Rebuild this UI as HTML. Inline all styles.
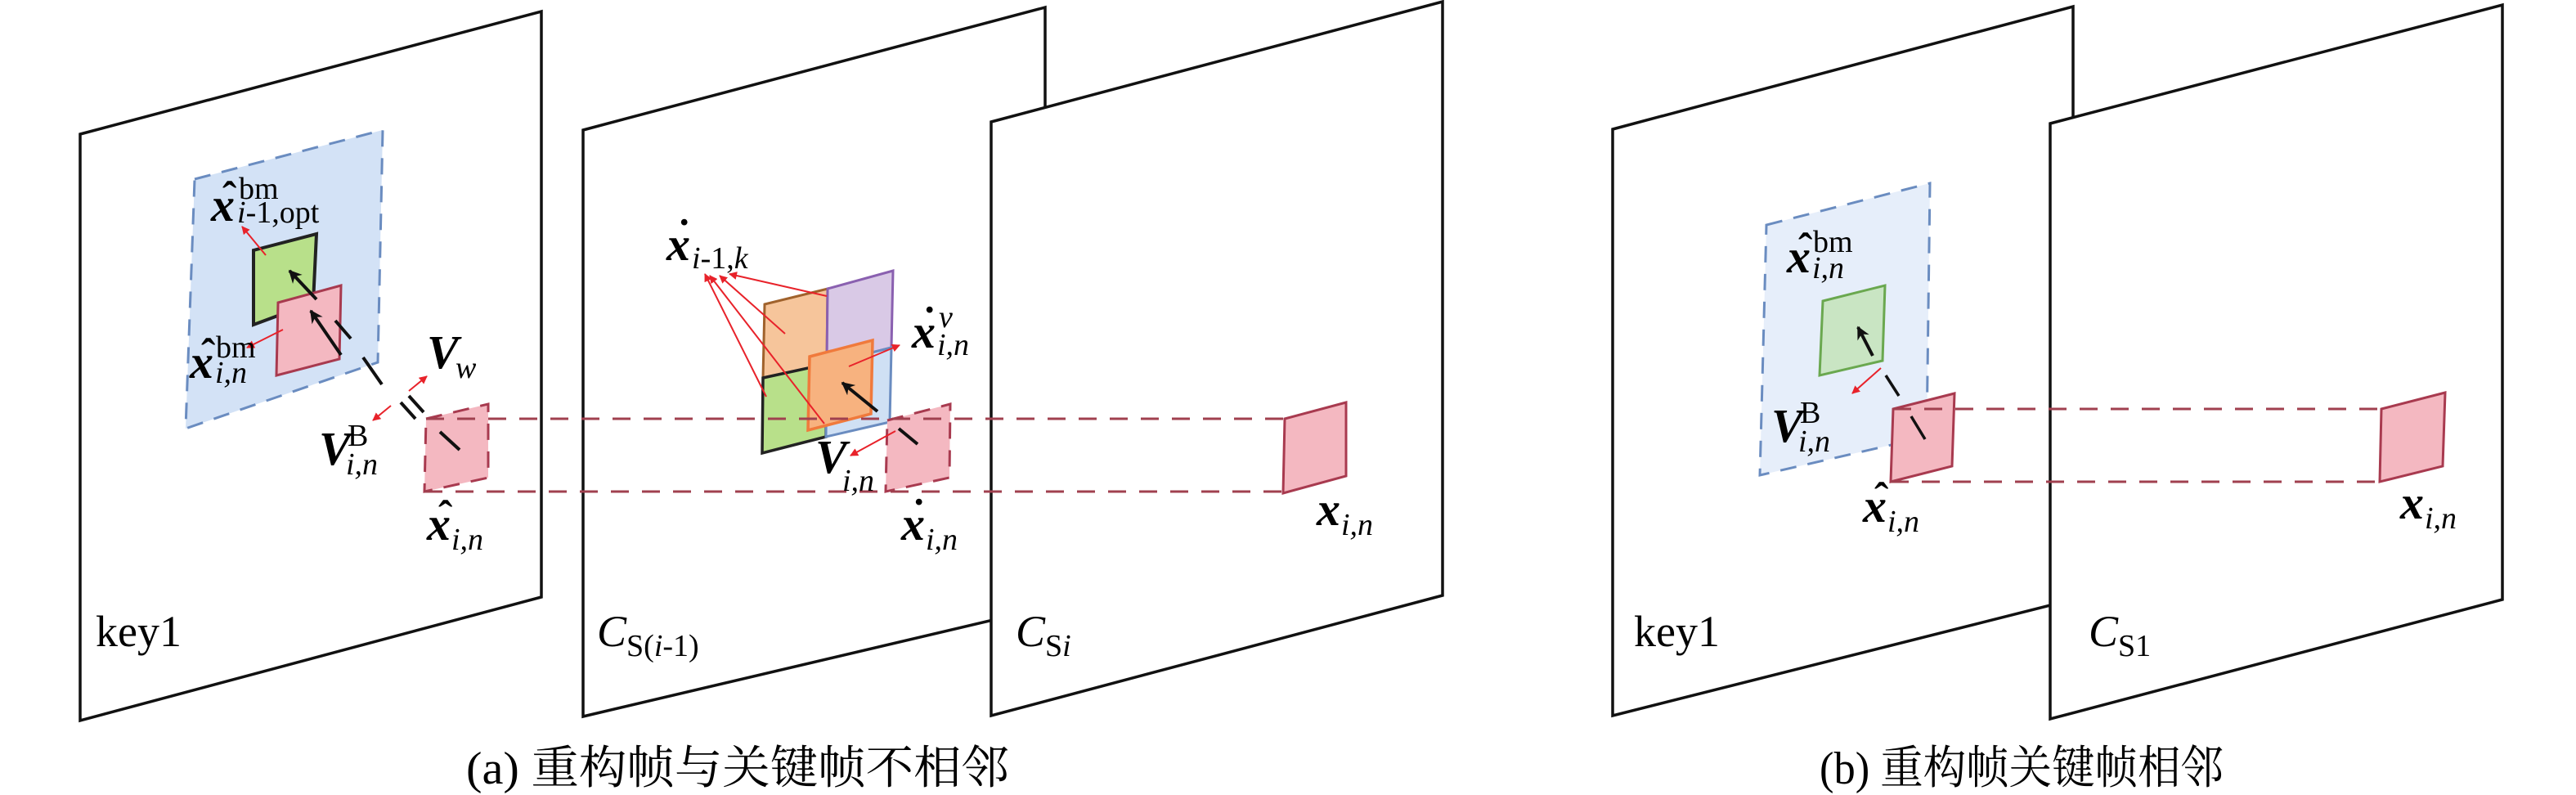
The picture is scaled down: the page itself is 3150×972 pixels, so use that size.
<!DOCTYPE html>
<html><head><meta charset="utf-8"><style>
html,body{margin:0;padding:0;background:#fff;}
svg{display:block;}
text{font-family:"Liberation Serif","Noto Serif CJK SC",serif;}
.m{font-style:italic;font-weight:bold;font-size:58px;}
.h{font-weight:bold;font-size:52px;}
.s{font-style:italic;font-size:38px;}
.r{font-size:38px;}
.lab{font-size:54px;}
.cap{font-size:56px;}
</style></head><body>
<svg width="3150" height="972" viewBox="0 0 3150 972" xmlns="http://www.w3.org/2000/svg">
<defs>
<marker id="ra" viewBox="0 0 10 10" refX="9" refY="5" markerWidth="5" markerHeight="5" orient="auto" markerUnits="strokeWidth"><path d="M0,0L10,5L0,10z" fill="#e8222a"/></marker>
<marker id="ba" viewBox="0 0 10 10" refX="9" refY="5" markerWidth="4" markerHeight="4" orient="auto" markerUnits="strokeWidth"><path d="M0,0L10,5L0,10L3,5z" fill="#111"/></marker>
</defs>
<g fill="#fff" stroke="#111" stroke-width="3.5">
<polygon points="98,164 662,14 662,730 98,881"/>
<polygon points="713,159 1278,9 1278,743 713,876"/>
<polygon points="1212,149 1764,2 1764,728 1212,875"/>
<polygon points="1972,158 2535,8 2535,733 1972,875"/>
<polygon points="2507,151 3060,6 3060,733 2507,879"/>
</g>
<!-- part a: key1 -->
<polygon points="238,219 468,159 462,443 227,524" fill="#d3e2f6" stroke="#6a8cc0" stroke-width="3" stroke-dasharray="20 14"/>
<polygon points="310,306 387,286 383,370 310,397" fill="#b8e08a" stroke="#222" stroke-width="4"/>
<polygon points="340,370 417,349 415,439 338,459" fill="#f4b8c1" stroke="#a83a4f" stroke-width="3"/>
<line x1="417" y1="434" x2="380" y2="380" stroke="#111" stroke-width="4" marker-end="url(#ba)"/>
<line x1="387" y1="366" x2="354" y2="331" stroke="#111" stroke-width="4" marker-end="url(#ba)"/>
<g stroke="#111" stroke-width="4">
<line x1="410" y1="392" x2="429" y2="414"/>
<line x1="444" y1="437" x2="467" y2="470"/>
<line x1="490" y1="492" x2="508" y2="512"/>
<line x1="500" y1="484" x2="518" y2="504"/>
</g>
<g stroke="#e8222a" stroke-width="2" fill="none">
<line x1="325" y1="312" x2="296" y2="277" marker-end="url(#ra)"/>
<line x1="346" y1="403" x2="302" y2="425" marker-end="url(#ra)"/>
<line x1="478" y1="496" x2="456" y2="514" marker-end="url(#ra)"/>
<line x1="500" y1="478" x2="522" y2="460" marker-end="url(#ra)"/>
</g>
<polygon points="521,512 597,494 597,584 519,601" fill="#f4b8c1" stroke="#a83a4f" stroke-width="3" stroke-dasharray="20 14"/>
<line x1="538" y1="528" x2="562" y2="550" stroke="#111" stroke-width="4"/>
<!-- part a: C_S(i-1) -->
<polygon points="935,372 1012,353 1011,445 933,462" fill="#f6c59b" stroke="#a0622c" stroke-width="3"/>
<polygon points="1012,353 1092,331 1090,425 1011,445" fill="#d9c9e6" stroke="#8a60b0" stroke-width="3"/>
<polygon points="933,462 1011,445 1010,534 932,554" fill="#b8e08a" stroke="#222" stroke-width="3.5"/>
<polygon points="1011,445 1090,425 1088,516 1010,534" fill="#cfe0f4" stroke="#6a8cc0" stroke-width="3"/>
<polygon points="990,436 1067,416 1065,506 988,526" fill="#f7b27f" stroke="#f07a3c" stroke-width="3.5"/>
<line x1="1073" y1="503" x2="1030" y2="468" stroke="#111" stroke-width="4" marker-end="url(#ba)"/>
<polygon points="1085,514 1162,494 1161,584 1083,601" fill="#f4b8c1" stroke="#a83a4f" stroke-width="3" stroke-dasharray="20 14"/>
<line x1="1099" y1="524" x2="1122" y2="543" stroke="#111" stroke-width="4"/>
<g stroke="#e8222a" stroke-width="2" fill="none">
<line x1="1011" y1="362" x2="892" y2="335" marker-end="url(#ra)"/>
<line x1="960" y1="408" x2="880" y2="337" marker-end="url(#ra)"/>
<line x1="937" y1="485" x2="862" y2="335" marker-end="url(#ra)"/>
<line x1="1008" y1="518" x2="868" y2="337" marker-end="url(#ra)"/>
<line x1="1038" y1="448" x2="1100" y2="422" marker-end="url(#ra)"/>
<line x1="1095" y1="527" x2="1040" y2="557" marker-end="url(#ra)"/>
</g>
<g stroke="#a0404f" stroke-width="3" stroke-dasharray="22 16" fill="none">
<line x1="521" y1="512" x2="1571" y2="512"/>
<line x1="519" y1="601" x2="1569" y2="601"/>
</g>
<polygon points="1571,512 1646,492 1646,582 1569,603" fill="#f4b8c1" stroke="#a83a4f" stroke-width="3"/>
<!-- part b -->
<polygon points="2160,275 2360,224 2356,534 2152,581" fill="#e6eefa" stroke="#6a8cc0" stroke-width="3" stroke-dasharray="20 14"/>
<polygon points="2229,368 2305,349 2302,441 2225,459" fill="#c9e5c3" stroke="#6aa84f" stroke-width="3"/>
<line x1="2290" y1="435" x2="2272" y2="400" stroke="#111" stroke-width="4" marker-end="url(#ba)"/>
<line x1="2300" y1="450" x2="2265" y2="481" stroke="#e8222a" stroke-width="2" marker-end="url(#ra)"/>
<line x1="2306" y1="459" x2="2322" y2="484" stroke="#111" stroke-width="3.5"/>
<polygon points="2315,500 2390,481 2387,570 2312,589" fill="#f4b8c1" stroke="#a83a4f" stroke-width="3"/>
<line x1="2337" y1="509" x2="2354" y2="537" stroke="#111" stroke-width="3.5"/>
<g stroke="#a0404f" stroke-width="3" stroke-dasharray="22 16" fill="none">
<line x1="2315" y1="500" x2="2912" y2="500"/>
<line x1="2312" y1="589" x2="2910" y2="589"/>
</g>
<polygon points="2912,500 2990,480 2987,570 2910,589" fill="#f4b8c1" stroke="#a83a4f" stroke-width="3"/>
<!-- labels part a -->
<text x="258" y="270" class="m">x</text><text x="272" y="258" class="h">ˆ</text>
<text x="292" y="243" class="r">bm</text><text x="290" y="272"><tspan class="s">i</tspan><tspan class="r">-1,opt</tspan></text>

<text x="232" y="462" class="m">x</text><text x="246" y="450" class="h">ˆ</text>
<text x="264" y="437" class="r">bm</text><text x="263" y="468" class="s">i,n</text>

<text x="522" y="450" class="m">V</text><text x="557" y="462" class="s">w</text>

<text x="390" y="568" class="m">V</text><text x="425" y="545" class="r">B</text><text x="423" y="580" class="s">i,n</text>

<text x="522" y="660" class="m">x</text><text x="536" y="648" class="h">ˆ</text><text x="552" y="672" class="s">i,n</text>

<text x="815" y="318" class="m">x</text><text x="828" y="304" class="h">˙</text>
<text x="846" y="328"><tspan class="s">i</tspan><tspan class="r">-1,</tspan><tspan class="s">k</tspan></text>

<text x="1115" y="425" class="m">x</text><text x="1128" y="411" class="h">˙</text>
<text x="1148" y="400" class="s">v</text><text x="1146" y="434" class="s">i,n</text>

<text x="997" y="578" class="m">V</text><text x="1030" y="600" class="s">i,n</text>

<text x="1102" y="660" class="m">x</text><text x="1115" y="646" class="h">˙</text><text x="1132" y="672" class="s">i,n</text>

<text x="1610" y="642" class="m">x</text><text x="1640" y="654" class="s">i,n</text>

<text x="117" y="790" class="lab">key1</text>
<text x="730" y="790" class="lab" font-style="italic">C<tspan font-style="normal" font-size="38" dy="12">S(</tspan><tspan font-size="38">i</tspan><tspan font-style="normal" font-size="38">-1)</tspan></text>
<text x="1242" y="790" class="lab" font-style="italic">C<tspan font-style="normal" font-size="38" dy="12">S</tspan><tspan font-size="38">i</tspan></text>

<!-- labels part b -->
<text x="2185" y="333" class="m">x</text><text x="2199" y="321" class="h">ˆ</text>
<text x="2217" y="308" class="r">bm</text><text x="2216" y="340" class="s">i,n</text>

<text x="2166" y="540" class="m">V</text><text x="2201" y="517" class="r">B</text><text x="2199" y="552" class="s">i,n</text>

<text x="2278" y="638" class="m">x</text><text x="2292" y="626" class="h">ˆ</text><text x="2308" y="650" class="s">i,n</text>

<text x="2935" y="634" class="m">x</text><text x="2965" y="646" class="s">i,n</text>

<text x="1998" y="790" class="lab">key1</text>
<text x="2554" y="790" class="lab" font-style="italic">C<tspan font-style="normal" font-size="38" dy="12">S1</tspan></text>

<text x="902" y="958" class="cap" text-anchor="middle" textLength="664" lengthAdjust="spacingAndGlyphs">(a) 重构帧与关键帧不相邻</text>
<text x="2472" y="958" class="cap" text-anchor="middle" textLength="494" lengthAdjust="spacingAndGlyphs">(b) 重构帧关键帧相邻</text>
</svg>
</body></html>
